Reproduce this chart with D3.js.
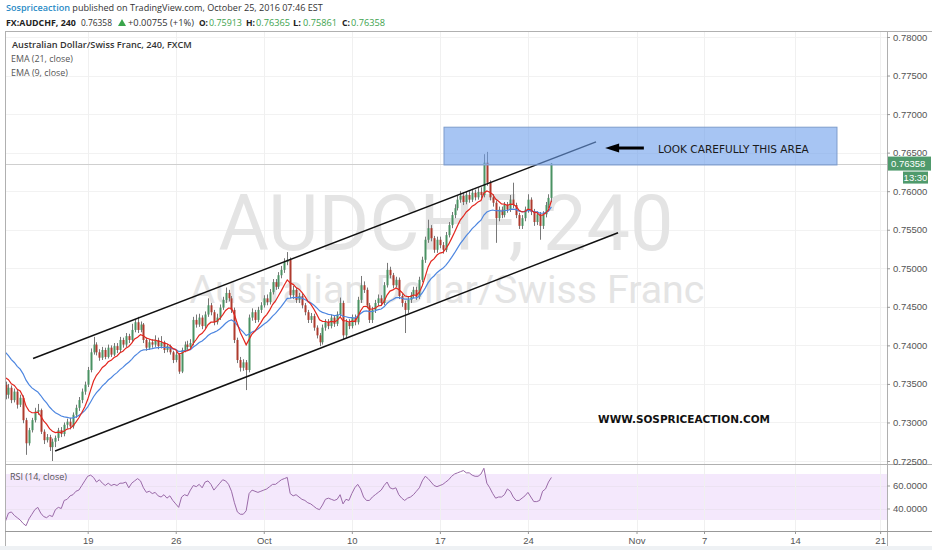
<!DOCTYPE html>
<html><head><meta charset="utf-8">
<script src="https://d3js.org/d3.v7.min.js"></script>
<style>
html,body{margin:0;padding:0;background:#fff;}
svg{display:block;}
</style></head>
<body>
<svg id="chart" width="932" height="550"></svg>
<script>
// ---------- DATA (AUDCHF 240, FXCM) ----------
const opens = [0.7349,0.7336,0.7345,0.7329,0.7340,0.7323,0.7332,0.7303,0.7273,0.7290,
0.7303,0.7314,0.7316,0.7288,0.7277,0.7281,0.7268,0.7275,0.7280,0.7290,
0.7285,0.7297,0.7301,0.7295,0.7310,0.7319,0.7329,0.7340,0.7349,0.7368,
0.7391,0.7401,0.7391,0.7384,0.7394,0.7385,0.7397,0.7388,0.7399,0.7394,
0.7407,0.7401,0.7412,0.7407,0.7420,0.7430,0.7420,0.7427,0.7407,0.7397,
0.7404,0.7401,0.7407,0.7399,0.7404,0.7394,0.7399,0.7391,0.7381,0.7388,
0.7366,0.7394,0.7401,0.7398,0.7403,0.7433,0.7427,0.7436,0.7425,0.7440,
0.7452,0.7443,0.7430,0.7436,0.7449,0.7459,0.7468,0.7461,0.7446,0.7407,
0.7381,0.7371,0.7378,0.7368,0.7436,0.7443,0.7433,0.7446,0.7452,0.7461,
0.7456,0.7469,0.7482,0.7476,0.7491,0.7498,0.7508,0.7511,0.7465,0.7472,
0.7459,0.7464,0.7452,0.7443,0.7433,0.7438,0.7423,0.7413,0.7404,0.7423,
0.7430,0.7425,0.7436,0.7428,0.7440,0.7455,0.7413,0.7430,0.7425,0.7436,
0.7430,0.7459,0.7478,0.7472,0.7452,0.7433,0.7446,0.7455,0.7461,0.7455,
0.7478,0.7498,0.7491,0.7478,0.7485,0.7464,0.7455,0.7446,0.7459,0.7465,
0.7472,0.7463,0.7485,0.7511,0.7537,0.7552,0.7539,0.7524,0.7537,0.7530,
0.7524,0.7543,0.7556,0.7569,0.7578,0.7589,0.7594,0.7586,0.7595,0.7589,
0.7598,0.7592,0.7599,0.7595,0.7637,0.7611,0.7592,0.7585,0.7565,0.7576,
0.7569,0.7582,0.7576,0.7589,0.7582,0.7569,0.7555,0.7565,0.7576,0.7589,
0.7573,0.7560,0.7570,0.7555,0.7570,0.7582,0.75913];
const highs = [0.7353,0.7350,0.7348,0.7344,0.7343,0.7336,0.7335,0.7306,0.7293,0.7306,
0.7319,0.7324,0.7318,0.7291,0.7285,0.7284,0.7279,0.7283,0.7293,0.7294,
0.7300,0.7305,0.7306,0.7313,0.7323,0.7333,0.7344,0.7353,0.7372,0.7396,
0.7411,0.7404,0.7395,0.7398,0.7397,0.7401,0.7400,0.7403,0.7403,0.7411,
0.7410,0.7416,0.7415,0.7428,0.7434,0.7437,0.7431,0.7429,0.7410,0.7408,
0.7408,0.7413,0.7410,0.7412,0.7406,0.7402,0.7401,0.7393,0.7392,0.7390,
0.7397,0.7405,0.7406,0.7408,0.7437,0.7440,0.7441,0.7439,0.7444,0.7461,
0.7455,0.7446,0.7441,0.7453,0.7463,0.7475,0.7472,0.7464,0.7449,0.7410,
0.7385,0.7382,0.7381,0.7440,0.7448,0.7446,0.7450,0.7456,0.7465,0.7466,
0.7473,0.7486,0.7486,0.7495,0.7503,0.7513,0.7521,0.7514,0.7477,0.7475,
0.7468,0.7467,0.7455,0.7446,0.7442,0.7441,0.7426,0.7416,0.7427,0.7434,
0.7434,0.7440,0.7439,0.7444,0.7462,0.7458,0.7434,0.7434,0.7440,0.7440,
0.7463,0.7490,0.7483,0.7475,0.7455,0.7450,0.7459,0.7466,0.7465,0.7482,
0.7507,0.7502,0.7494,0.7489,0.7488,0.7467,0.7458,0.7463,0.7469,0.7476,
0.7476,0.7489,0.7515,0.7541,0.7563,0.7556,0.7542,0.7541,0.7541,0.7534,
0.7547,0.7560,0.7573,0.7583,0.7594,0.7600,0.7598,0.7600,0.7600,0.7603,
0.7602,0.7604,0.7605,0.7648,0.7651,0.7614,0.7596,0.7588,0.7580,0.7580,
0.7586,0.7586,0.7595,0.7611,0.7585,0.7572,0.7569,0.7580,0.7596,0.7592,
0.7577,0.7574,0.7573,0.7574,0.7586,0.7596,0.76365];
const lows = [0.7330,0.7331,0.7325,0.7326,0.7318,0.7320,0.7299,0.7258,0.7270,0.7287,
0.7300,0.7310,0.7285,0.7272,0.7274,0.7263,0.7250,0.7268,0.7276,0.7281,
0.7282,0.7292,0.7291,0.7292,0.7306,0.7315,0.7325,0.7336,0.7346,0.7365,
0.7388,0.7387,0.7380,0.7381,0.7382,0.7383,0.7385,0.7386,0.7390,0.7391,
0.7397,0.7398,0.7403,0.7404,0.7417,0.7416,0.7417,0.7403,0.7393,0.7394,
0.7397,0.7398,0.7395,0.7396,0.7390,0.7391,0.7388,0.7377,0.7378,0.7363,
0.7364,0.7391,0.7394,0.7395,0.7400,0.7423,0.7424,0.7421,0.7422,0.7437,
0.7439,0.7426,0.7427,0.7433,0.7446,0.7455,0.7457,0.7442,0.7403,0.7377,
0.7366,0.7367,0.7342,0.7365,0.7432,0.7429,0.7430,0.7442,0.7449,0.7452,
0.7453,0.7466,0.7472,0.7473,0.7487,0.7494,0.7504,0.7461,0.7460,0.7455,
0.7455,0.7448,0.7439,0.7429,0.7429,0.7419,0.7409,0.7399,0.7401,0.7419,
0.7421,0.7422,0.7424,0.7425,0.7437,0.7408,0.7410,0.7421,0.7422,0.7426,
0.7427,0.7455,0.7468,0.7448,0.7429,0.7429,0.7442,0.7451,0.7451,0.7452,
0.7475,0.7487,0.7474,0.7475,0.7460,0.7450,0.7416,0.7442,0.7455,0.7461,
0.7459,0.7460,0.7482,0.7507,0.7533,0.7535,0.7520,0.7520,0.7526,0.7519,
0.7521,0.7540,0.7552,0.7565,0.7575,0.7585,0.7582,0.7583,0.7585,0.7586,
0.7588,0.7589,0.7591,0.7592,0.7607,0.7588,0.7580,0.7533,0.7561,0.7565,
0.7566,0.7572,0.7573,0.7578,0.7565,0.7551,0.7551,0.7561,0.7572,0.7569,
0.7555,0.7556,0.7537,0.7551,0.7566,0.7578,0.75861];
const closes = [0.7336,0.7345,0.7329,0.7340,0.7323,0.7332,0.7303,0.7273,0.7290,0.7303,
0.7314,0.7316,0.7288,0.7277,0.7281,0.7268,0.7275,0.7280,0.7290,0.7285,
0.7297,0.7301,0.7295,0.7310,0.7319,0.7329,0.7340,0.7349,0.7368,0.7391,
0.7401,0.7391,0.7384,0.7394,0.7385,0.7397,0.7388,0.7399,0.7394,0.7407,
0.7401,0.7412,0.7407,0.7420,0.7430,0.7420,0.7427,0.7407,0.7397,0.7404,
0.7401,0.7407,0.7399,0.7404,0.7394,0.7399,0.7391,0.7381,0.7388,0.7366,
0.7394,0.7401,0.7398,0.7403,0.7433,0.7427,0.7436,0.7425,0.7440,0.7452,
0.7443,0.7430,0.7436,0.7449,0.7459,0.7468,0.7461,0.7446,0.7407,0.7381,
0.7371,0.7378,0.7368,0.7436,0.7443,0.7433,0.7446,0.7452,0.7461,0.7456,
0.7469,0.7482,0.7476,0.7491,0.7498,0.7508,0.7511,0.7465,0.7472,0.7459,
0.7464,0.7452,0.7443,0.7433,0.7438,0.7423,0.7413,0.7404,0.7423,0.7430,
0.7425,0.7436,0.7428,0.7440,0.7455,0.7413,0.7430,0.7425,0.7436,0.7430,
0.7459,0.7478,0.7472,0.7452,0.7433,0.7446,0.7455,0.7461,0.7455,0.7478,
0.7498,0.7491,0.7478,0.7485,0.7464,0.7455,0.7446,0.7459,0.7465,0.7472,
0.7463,0.7485,0.7511,0.7537,0.7552,0.7539,0.7524,0.7537,0.7530,0.7524,
0.7543,0.7556,0.7569,0.7578,0.7589,0.7594,0.7586,0.7595,0.7589,0.7598,
0.7592,0.7599,0.7595,0.7637,0.7611,0.7592,0.7585,0.7565,0.7576,0.7569,
0.7582,0.7576,0.7589,0.7582,0.7569,0.7555,0.7565,0.7576,0.7589,0.7573,
0.7560,0.7570,0.7555,0.7570,0.7582,0.75913,0.76358];
const rsiValues = [29,36,37,34,32,30,27,25,31,35,
39,41,36,33,32,34,33,39,41,40,
47,48,51,52,55,56,60,64,68,69,
67,63,65,62,60,62,60,61,60,62,
62,63,58,62,64,66,64,58,54,55,
53,54,51,50,52,49,51,47,44,41,
50,52,51,56,60,59,61,58,63,64,
61,56,59,62,65,64,61,55,45,37,
35,35,38,53,56,55,54,55,56,57,
59,61,61,63,65,66,67,53,51,52,
50,48,47,45,44,42,40,39,43,48,
49,48,47,48,52,44,48,47,53,58,
61,57,50,47,47,50,52,54,56,60,
63,58,57,58,52,49,47,49,50,52,
55,58,64,68,66,63,60,59,60,61,
63,65,68,70,71,72,73,71,71,69,
68,68,70,75,62,58,53,49,50,50,
52,57,55,50,47,47,49,51,54,50,
46,46,47,55,57,63,67];
// EMA values at the first visible bar
const ema9Start = 0.7358, ema21Start = 0.7391;
const priceTicks = [0.725,0.730,0.735,0.740,0.745,0.750,0.755,0.760,0.765,0.770,0.775,0.780];
const rsiTicks = [40,60];
const timeTickIdx = [28,58,88,118,148,178,215,238,269,298];
const timeTickLabels = ["19","26","Oct","10","17","24","Nov","7","14","21"];
const lastPrice = 0.76358;
// drawings (bar index, price)
const channelUpper = [[9.4,0.7383],[201.2,0.7664]];
const channelLower = [[16.9,0.7263],[208.7,0.7546]];
const zoneIdx = [149.4,283.3], zonePrice = [0.7683,0.7634];
const arrowIdx = [217.5,204.3], arrowPrice = 0.7656;
const noteIdx = 222.3, notePrice = 0.7656;
const siteIdx = 201.9, sitePrice = 0.7304;

// ---------- CHART ----------
const svg = d3.select('#chart');
const SANS = '"Liberation Sans", Arial, sans-serif';
const PL=5, PR=887, PT=31, PB=464, RT=465, RB=531;
const x = d3.scaleLinear().domain([0,300]).range([5.5,886]);
const y = d3.scaleLinear().domain([0.725,0.78]).range([461,37]);
const yr = d3.scaleLinear().domain([30,70]).range([520,474]);

function fit(sel,w){const l=sel.node().getComputedTextLength(); if(l>0){const fs=parseFloat(sel.attr('font-size')); sel.attr('font-size',(fs*w/l).toFixed(2));} return sel;}

const defs = svg.append('defs');
defs.append('clipPath').attr('id','cp').append('rect').attr('x',PL).attr('y',PT).attr('width',PR-PL).attr('height',PB-PT);
defs.append('clipPath').attr('id','cr').append('rect').attr('x',PL).attr('y',RT).attr('width',PR-PL).attr('height',RB-RT);

svg.append('rect').attr('x',0).attr('y',546).attr('width',932).attr('height',4).attr('fill','#eef1f4');

// grid
const gh = svg.append('g');
gh.selectAll('line').data(priceTicks).join('line')
  .attr('x1',PL).attr('x2',PR).attr('y1',d=>Math.round(y(d))+0.5).attr('y2',d=>Math.round(y(d))+0.5)
  .attr('stroke','#f2f2f2');
// RSI band
svg.append('rect').attr('x',PL).attr('width',PR-PL).attr('y',yr(70)).attr('height',yr(30)-yr(70)).attr('fill','#f4e8fc');
const gr = svg.append('g');
gr.selectAll('line').data(rsiTicks).join('line')
  .attr('x1',PL).attr('x2',PR).attr('y1',d=>Math.round(yr(d))+0.5).attr('y2',d=>Math.round(yr(d))+0.5)
  .attr('stroke','#ece2f2');
const gv = svg.append('g');
gv.selectAll('line').data(timeTickIdx).join('line')
  .attr('x1',d=>Math.round(x(d))+0.5).attr('x2',d=>Math.round(x(d))+0.5).attr('y1',PT).attr('y2',RB)
  .attr('stroke','#f0f0f0');

// watermark
const wm1 = svg.append('text').attr('x',446).attr('y',250).attr('text-anchor','middle')
  .attr('font-family','Roboto, sans-serif').attr('font-size',70).attr('fill','#e4e4e4').text('AUDCHF, 240');
fit(wm1,455);
const wm2 = svg.append('text').attr('x',447).attr('y',303).attr('text-anchor','middle')
  .attr('font-family','Roboto, sans-serif').attr('font-size',40).attr('fill','#e4e4e4').text('Australian Dollar/Swiss Franc');
fit(wm2,515);

// price pane
const pane = svg.append('g').attr('clip-path','url(#cp)');
const bars = closes.map((c,i)=>({i,o:opens[i],h:highs[i],l:lows[i],c}));
pane.append('g').selectAll('line').data(bars).join('line')
  .attr('x1',d=>Math.round(x(d.i))+0.5).attr('x2',d=>Math.round(x(d.i))+0.5)
  .attr('y1',d=>y(d.h)).attr('y2',d=>y(d.l)).attr('stroke','#777').attr('stroke-width',1);
pane.append('g').selectAll('rect').data(bars).join('rect')
  .attr('x',d=>Math.round(x(d.i))-0.5).attr('width',2)
  .attr('y',d=>y(Math.max(d.o,d.c))).attr('height',d=>Math.max(1,Math.abs(y(d.o)-y(d.c))))
  .attr('fill',d=>d.c>=d.o?'#4a9263':'#ae3b2e');

function ema(arr,n,seed){const k=2/(n+1);let p=seed;return arr.map((c,i)=>{if(i>0)p=p+k*(c-p);return p;});}
const ema21 = ema(closes,21,ema21Start), ema9 = ema(closes,9,ema9Start);
const line = d3.line().x((d,i)=>x(i)).y(d=>y(d));
pane.append('path').attr('d',line(ema21)).attr('fill','none').attr('stroke','#4d86e0').attr('stroke-width',1.2);
pane.append('path').attr('d',line(ema9)).attr('fill','none').attr('stroke','#e3261e').attr('stroke-width',1.2);

// last price line
pane.append('line').attr('x1',PL).attr('x2',PR).attr('y1',Math.round(y(lastPrice))+0.5).attr('y2',Math.round(y(lastPrice))+0.5)
  .attr('stroke','#cfcfcf');

// channel
[channelUpper,channelLower].forEach(c=>{
  pane.append('line').attr('x1',x(c[0][0])).attr('y1',y(c[0][1])).attr('x2',x(c[1][0])).attr('y2',y(c[1][1]))
    .attr('stroke','#111').attr('stroke-width',1.5);
});
// zone box
pane.append('rect').attr('x',x(zoneIdx[0])).attr('width',x(zoneIdx[1])-x(zoneIdx[0]))
  .attr('y',y(zonePrice[0])).attr('height',y(zonePrice[1])-y(zonePrice[0]))
  .attr('fill','#6d9eeb').attr('fill-opacity',0.6).attr('stroke','#7d9ccc').attr('stroke-width',1);
// arrow
const ay = y(arrowPrice), ax0 = x(arrowIdx[0]), ax1 = x(arrowIdx[1]);
pane.append('line').attr('x1',ax0).attr('x2',ax1+12).attr('y1',ay).attr('y2',ay).attr('stroke','#000').attr('stroke-width',3);
pane.append('path').attr('d',`M${ax1},${ay} L${ax1+14},${ay-4.5} L${ax1+14},${ay+4.5} Z`).attr('fill','#000');
const note = pane.append('text').attr('x',x(noteIdx)).attr('y',y(notePrice)+4.5)
  .attr('font-family','"DejaVu Sans", sans-serif').attr('font-size',10).attr('fill','#1a1a1a').text('LOOK CAREFULLY THIS AREA');
fit(note,151);
const site = pane.append('text').attr('x',x(siteIdx)).attr('y',y(sitePrice)+4)
  .attr('font-family','"DejaVu Sans", sans-serif').attr('font-weight','bold').attr('font-size',10).attr('fill','#111').text('WWW.SOSPRICEACTION.COM');
fit(site,172);

// RSI pane
const rp = svg.append('g').attr('clip-path','url(#cr)');
rp.append('path').attr('d',d3.line().x((d,i)=>x(i)).y(d=>yr(d))(rsiValues))
  .attr('fill','none').attr('stroke','#9a6aa8').attr('stroke-width',1);

// frames
const fr = svg.append('g').attr('stroke','#b0b0b0').attr('stroke-width',1);
fr.append('line').attr('x1',PL).attr('x2',932).attr('y1',PT+0.5).attr('y2',PT+0.5);
fr.append('line').attr('x1',PL+0.5).attr('x2',PL+0.5).attr('y1',PT).attr('y2',546);
fr.append('line').attr('x1',PR+0.5).attr('x2',PR+0.5).attr('y1',PT).attr('y2',546);
fr.append('line').attr('x1',PL).attr('x2',932).attr('y1',PB+0.5).attr('y2',PB+0.5);
fr.append('line').attr('x1',PL).attr('x2',932).attr('y1',RB+0.5).attr('y2',RB+0.5).attr('stroke','#999');

// axes
function styleAxis(g){g.select('.domain').remove();g.selectAll('line').attr('stroke','#999');
  g.selectAll('text').attr('fill','#555').attr('font-size',9.5).attr('font-family',SANS);}
svg.append('g').attr('transform',`translate(${PR},0)`)
  .call(d3.axisRight(y).tickValues(priceTicks).tickFormat(d3.format('.5f')).tickSize(3).tickPadding(3)).call(styleAxis);
svg.append('g').attr('transform',`translate(${PR},0)`)
  .call(d3.axisRight(yr).tickValues(rsiTicks).tickFormat(d3.format('.4f')).tickSize(3).tickPadding(3)).call(styleAxis);
svg.append('g').attr('transform',`translate(0,${RB})`)
  .call(d3.axisBottom(x).tickValues(timeTickIdx).tickFormat((d,i)=>timeTickLabels[i]).tickSize(3).tickPadding(3)).call(styleAxis);

// last price labels
const ly = y(lastPrice);
svg.append('rect').attr('x',PR+1).attr('y',ly-7).attr('width',43).attr('height',14).attr('fill','#4f9a6c');
svg.append('text').attr('x',PR+4).attr('y',ly+3.5).attr('font-family',SANS).attr('font-size',9.5).attr('fill','#fff').text(d3.format('.5f')(lastPrice));
svg.append('rect').attr('x',903).attr('y',ly+8).attr('width',25).attr('height',12).attr('fill','#4f9a6c');
svg.append('text').attr('x',915.5).attr('y',ly+17.5).attr('text-anchor','middle').attr('font-family',SANS).attr('font-size',9.5).attr('fill','#fff').text('13:30');

// legends
const lg1 = svg.append('text').attr('x',12).attr('y',48).attr('font-family','"Open Sans", sans-serif').attr('font-weight',600)
  .attr('font-size',10).attr('fill','#333').text('Australian Dollar/Swiss Franc, 240, FXCM');
fit(lg1,180);
const lg2 = svg.append('text').attr('x',11).attr('y',62).attr('font-family','"Open Sans", sans-serif')
  .attr('font-size',10).attr('fill','#555').text('EMA (21, close)');
fit(lg2,62);
const lg3 = svg.append('text').attr('x',11).attr('y',76).attr('font-family','"Open Sans", sans-serif')
  .attr('font-size',10).attr('fill','#555').text('EMA (9, close)');
fit(lg3,57);
const lg4 = svg.append('text').attr('x',10).attr('y',480).attr('font-family','"Open Sans", sans-serif')
  .attr('font-size',9).attr('fill','#555').text('RSI (14, close)');
fit(lg4,57);

// header
const h1 = svg.append('text').attr('x',6).attr('y',11).attr('font-family','"Open Sans", sans-serif').attr('font-size',10);
h1.append('tspan').attr('fill','#2a8bc6').attr('font-weight',600).text('Sospriceaction');
h1.append('tspan').attr('fill','#333').text(' published on TradingView.com, October 25, 2016 07:46 EST');
fit(h1,317);
const hdr = [
  {t:'FX:AUDCHF, 240',x:6,w:70,b:true,c:'#222'},
  {t:'0.76358',x:81,w:31,b:false,c:'#333'},
  {t:'+0.00755 (+1%)',x:128,w:66,b:false,c:'#333'},
  {t:'O:',x:199,w:9,b:true,c:'#222'},{t:'0.75913',x:209,w:33,b:false,c:'#3ea34e'},
  {t:'H:',x:246,w:9,b:true,c:'#222'},{t:'0.76365',x:256,w:34,b:false,c:'#3ea34e'},
  {t:'L:',x:293,w:8,b:true,c:'#222'},{t:'0.75861',x:303,w:34,b:false,c:'#3ea34e'},
  {t:'C:',x:342,w:8,b:true,c:'#222'},{t:'0.76358',x:351,w:34,b:false,c:'#3ea34e'}
];
hdr.forEach(h=>{
  const t = svg.append('text').attr('x',h.x).attr('y',25.5).attr('font-family','"Open Sans", sans-serif')
    .attr('font-weight',h.b?700:400).attr('font-size',10).attr('fill',h.c).text(h.t);
  fit(t,h.w);
});
svg.append('path').attr('d','M118,26 L126,26 L122,19 Z').attr('fill','#3aa54b');
</script>
</body></html>
